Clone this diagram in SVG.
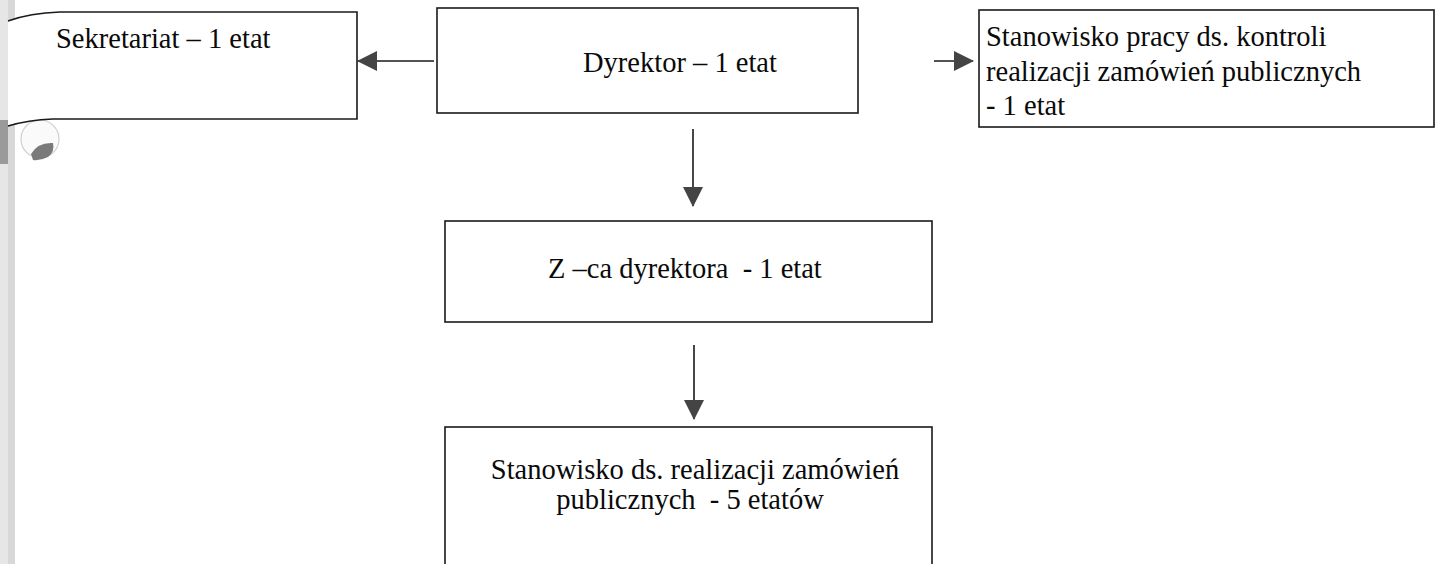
<svg xmlns="http://www.w3.org/2000/svg" width="1439" height="564" viewBox="0 0 1439 564">
<style>
.box{fill:#fff;stroke:#1a1a1a;stroke-width:1.6}
.t{font-family:"Liberation Serif","Times New Roman",serif;font-size:28.5px;fill:#0a0a0a}
.ln{stroke:#1a1a1a;stroke-width:1.6;fill:none}
</style>
<defs>
<marker id="ah" viewBox="0 0 20 20" refX="19" refY="10" markerWidth="20" markerHeight="20" markerUnits="userSpaceOnUse" orient="auto">
<path d="M0,0 L20,10 L0,20 Z" fill="#444"/>
</marker>
</defs>
<rect width="1439" height="564" fill="#fff"/>
<g id="binding">
<rect x="0" y="0" width="15" height="564" fill="#e6e6e6"/>
<rect x="8" y="0" width="7" height="564" fill="#d8d8d8"/>
<rect x="0" y="120" width="8" height="44" fill="#9a9a9a"/>
<circle cx="40" cy="139" r="19" fill="#fafafa" stroke="#cfcfcf" stroke-width="1.2"/>
<path d="M31,154 Q38,142 53,143 Q55,152 48,157 Q40,161 33,160 Z" fill="#7a7a7a"/>
</g>
<g id="connectors">
<line class="ln" x1="434" y1="61" x2="358" y2="61" marker-end="url(#ah)"/>
<line class="ln" x1="934" y1="61" x2="973" y2="61" marker-end="url(#ah)"/>
<line class="ln" x1="693" y1="129" x2="693" y2="206" marker-end="url(#ah)"/>
<line class="ln" x1="694" y1="345" x2="694" y2="419" marker-end="url(#ah)"/>
</g>
<g id="sekretariat">
<path class="box" d="M8,21 Q30,13 60,12 L357,12 L357,119 L53,119 Q28,120 8,126"/>
<text class="t" x="56" y="48">Sekretariat – 1 etat</text>
</g>
<g id="dyrektor">
<rect class="box" x="437" y="8" width="421" height="105"/>
<text class="t" x="583" y="72">Dyrektor – 1 etat</text>
</g>
<g id="kontrola">
<rect class="box" x="979" y="10" width="455" height="117"/>
<text class="t" x="986" y="46">Stanowisko pracy ds. kontroli</text>
<text class="t" x="986" y="81">realizacji zamówień publicznych</text>
<text class="t" x="986" y="115">- 1 etat</text>
</g>
<g id="zastepca">
<rect class="box" x="445" y="221" width="487" height="101"/>
<text class="t" x="548" y="278" xml:space="preserve">Z –ca dyrektora  - 1 etat</text>
</g>
<g id="realizacja">
<rect class="box" x="445" y="427" width="487" height="140"/>
<text class="t" x="695" y="479" text-anchor="middle">Stanowisko ds. realizacji zamówień</text>
<text class="t" x="690" y="509" text-anchor="middle" xml:space="preserve">publicznych  - 5 etatów</text>
</g>
</svg>
